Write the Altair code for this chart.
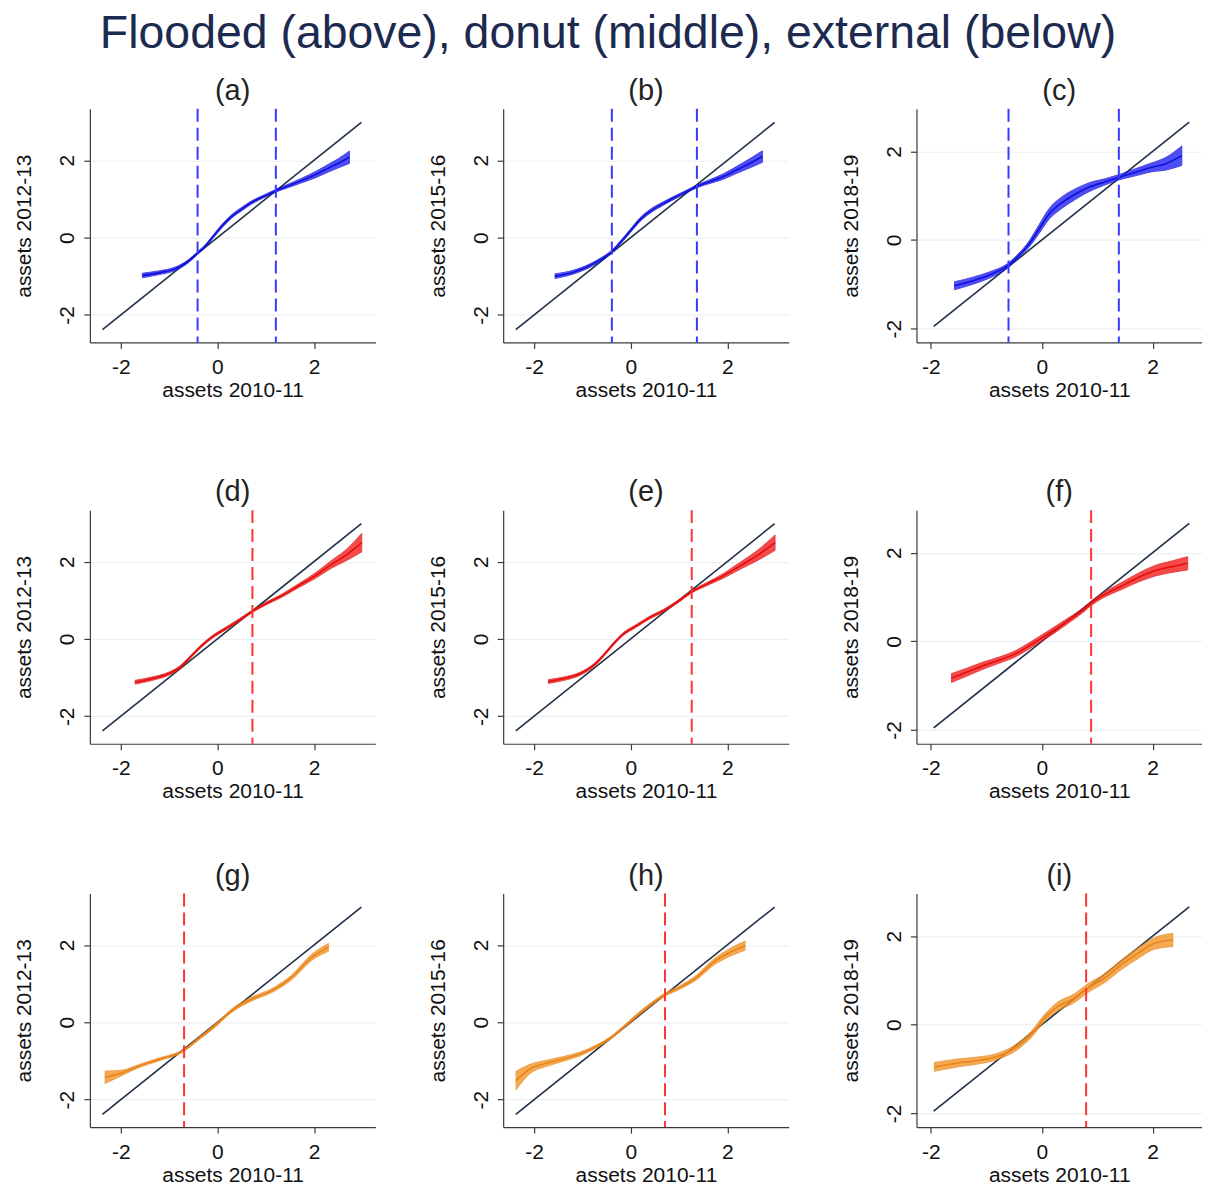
import altair as alt
import pandas as pd

TITLE = "Flooded (above), donut (middle), external (below)"
PANEL_LABELS = ["(a)", "(b)", "(c)", "(d)", "(e)", "(f)", "(g)", "(h)", "(i)"]
Y_TITLES = ["assets 2012-13", "assets 2015-16", "assets 2018-19"]
X_TITLE = "assets 2010-11"
TICKS = [-2, 0, 2]

# ---- panel (a) flooded, 2012-13
a_x = [-1.553, -1.222, -0.876, -0.600, -0.407, -0.255, -0.083, 0.090, 0.297, 0.504, 0.711, 0.987, 1.208, 1.470, 1.746, 2.022, 2.298, 2.505, 2.733]
a_y = [-0.979, -0.911, -0.808, -0.610, -0.395, -0.223, 0.034, 0.292, 0.550, 0.739, 0.911, 1.082, 1.211, 1.340, 1.478, 1.624, 1.796, 1.924, 2.079]
a_hw = [0.06, 0.05, 0.045, 0.04, 0.035, 0.035, 0.04, 0.045, 0.045, 0.045, 0.04, 0.035, 0.035, 0.045, 0.06, 0.08, 0.10, 0.12, 0.16]
a_cut = [-0.41, 1.21]

# ---- panel (b) flooded, 2015-16
b_x = [-1.567, -1.187, -0.842, -0.600, -0.407, -0.221, -0.014, 0.193, 0.400, 0.677, 0.952, 1.159, 1.366, 1.642, 1.919, 2.195, 2.470, 2.727]
b_y = [-0.996, -0.893, -0.722, -0.550, -0.378, -0.137, 0.164, 0.466, 0.680, 0.884, 1.064, 1.193, 1.322, 1.451, 1.580, 1.753, 1.924, 2.096]
b_hw = [0.06, 0.05, 0.045, 0.04, 0.035, 0.04, 0.045, 0.05, 0.05, 0.045, 0.04, 0.035, 0.035, 0.05, 0.07, 0.09, 0.12, 0.15]
b_cut = [-0.39, 1.37]

# ---- panel (c) flooded, 2018-19
c_x = [-1.575, -1.244, -0.945, -0.616, -0.407, -0.228, -0.048, 0.131, 0.371, 0.610, 0.849, 1.149, 1.388, 1.688, 1.988, 2.226, 2.526]
c_y = [-1.032, -0.919, -0.790, -0.580, -0.339, -0.090, 0.248, 0.587, 0.851, 1.038, 1.189, 1.316, 1.415, 1.528, 1.641, 1.716, 1.903]
c_hw = [0.09, 0.08, 0.07, 0.05, 0.05, 0.07, 0.10, 0.12, 0.13, 0.12, 0.10, 0.07, 0.06, 0.08, 0.10, 0.14, 0.22]
c_cut = [-0.60, 1.39]

# ---- panel (d) donut, 2012-13
d_x = [-1.704, -1.359, -1.014, -0.772, -0.565, -0.325, -0.118, 0.159, 0.435, 0.710, 0.987, 1.331, 1.677, 2.022, 2.367, 2.643, 2.988]
d_y = [-1.118, -1.031, -0.902, -0.730, -0.474, -0.173, 0.041, 0.258, 0.472, 0.704, 0.902, 1.116, 1.374, 1.632, 1.933, 2.147, 2.490]
d_hw = [0.05, 0.045, 0.04, 0.04, 0.035, 0.035, 0.035, 0.035, 0.035, 0.03, 0.035, 0.04, 0.05, 0.07, 0.10, 0.14, 0.24]
d_cut = [0.725]

# ---- panel (e) donut, 2015-16
e_x = [-1.704, -1.394, -1.049, -0.773, -0.566, -0.358, -0.151, 0.124, 0.400, 0.677, 0.952, 1.263, 1.573, 1.919, 2.263, 2.609, 2.988]
e_y = [-1.101, -1.031, -0.902, -0.688, -0.430, -0.129, 0.129, 0.343, 0.557, 0.729, 0.944, 1.219, 1.418, 1.632, 1.890, 2.147, 2.490]
e_hw = [0.05, 0.045, 0.04, 0.04, 0.035, 0.035, 0.035, 0.035, 0.035, 0.035, 0.035, 0.03, 0.04, 0.06, 0.09, 0.13, 0.20]
e_cut = [1.263]

# ---- panel (f) donut, 2018-19
f_x = [-1.628, -1.359, -1.059, -0.761, -0.461, -0.223, 0.018, 0.257, 0.496, 0.736, 0.916, 1.154, 1.454, 1.752, 2.052, 2.352, 2.632]
f_y = [-0.827, -0.699, -0.548, -0.420, -0.271, -0.097, 0.090, 0.280, 0.483, 0.693, 0.881, 1.070, 1.257, 1.445, 1.596, 1.686, 1.761]
f_hw = [0.10, 0.09, 0.08, 0.07, 0.07, 0.07, 0.07, 0.07, 0.06, 0.05, 0.05, 0.06, 0.08, 0.10, 0.12, 0.13, 0.15]
f_cut = [0.89]

# ---- panel (g) external, 2012-13
g_x = [-2.325, -1.981, -1.636, -1.222, -0.704, -0.393, -0.048, 0.296, 0.710, 1.124, 1.538, 1.952, 2.298]
g_y = [-1.421, -1.309, -1.137, -0.965, -0.732, -0.430, -0.086, 0.302, 0.603, 0.819, 1.163, 1.680, 1.938]
g_hw = [0.16, 0.07, 0.04, 0.035, 0.03, 0.035, 0.04, 0.045, 0.05, 0.05, 0.06, 0.08, 0.10]
g_cut = [-0.69]

# ---- panel (h) external, 2015-16
h_x = [-2.374, -2.084, -1.739, -1.394, -1.049, -0.704, -0.428, -0.151, 0.124, 0.400, 0.710, 1.021, 1.366, 1.711, 2.056, 2.367]
h_y = [-1.508, -1.206, -1.059, -0.947, -0.818, -0.620, -0.413, -0.129, 0.172, 0.448, 0.715, 0.904, 1.163, 1.550, 1.809, 1.981]
h_hw = [0.24, 0.12, 0.08, 0.06, 0.05, 0.04, 0.035, 0.035, 0.04, 0.04, 0.04, 0.045, 0.06, 0.08, 0.10, 0.12]
h_cut = [0.71]

# ---- panel (i) external, 2018-19
i_x = [-1.937, -1.516, -1.155, -0.794, -0.433, -0.193, 0.049, 0.289, 0.590, 0.830, 1.132, 1.431, 1.733, 2.034, 2.365]
i_y = [-0.952, -0.862, -0.809, -0.712, -0.487, -0.225, 0.150, 0.412, 0.599, 0.824, 1.048, 1.348, 1.610, 1.835, 1.910]
i_hw = [0.10, 0.09, 0.08, 0.07, 0.07, 0.07, 0.08, 0.10, 0.10, 0.10, 0.10, 0.11, 0.12, 0.13, 0.15]
i_cut = [0.80]

# axis ranges and 45-degree line extent per column
X_DOM_12 = [-2.64, 3.27]
Y_DOM_12 = [-2.71, 3.33]
X_DOM_3 = [-2.26, 2.89]
Y_DOM_3 = [-2.31, 2.96]
DIAG_12 = [-2.38, 2.98]
DIAG_3 = [-1.95, 2.66]

BLUE = "#2323f5"
BLUE_CUT = "#3a3aff"
RED = "#f41e1e"
RED_CUT = "#ff3434"
ORANGE = "#f39428"
DIAG_COLOR = "#1f3047"

W, H = 286, 234
FONT = "Liberation Sans"


def panel(label, xs, ys, hw, cuts, diag, xdom, ydom, ytitle, band_color, line_color, cut_color):
    df = pd.DataFrame({
        "x": xs,
        "y": ys,
        "lo": [y - h for y, h in zip(ys, hw)],
        "hi": [y + h for y, h in zip(ys, hw)],
    })
    ddf = pd.DataFrame({"x": diag, "y": diag})
    cdf = pd.DataFrame({"c": cuts})
    xsc = alt.Scale(domain=xdom, nice=False, zero=False)
    ysc = alt.Scale(domain=ydom, nice=False, zero=False)
    xax = alt.Axis(values=TICKS, title=X_TITLE, grid=False, labelExpr="'' + datum.value")
    yax = alt.Axis(values=TICKS, title=ytitle, grid=True, labelExpr="'' + datum.value")

    diag_l = alt.Chart(ddf).mark_line(color=DIAG_COLOR, strokeWidth=1.6).encode(
        x=alt.X("x:Q", scale=xsc, axis=xax),
        y=alt.Y("y:Q", scale=ysc, axis=yax),
    )
    band = alt.Chart(df).mark_area(
        color=band_color, opacity=0.8, interpolate="monotone",
        stroke=line_color, strokeWidth=1, strokeOpacity=0.9,
    ).encode(
        x=alt.X("x:Q", scale=xsc, axis=xax),
        y=alt.Y("lo:Q", scale=ysc, axis=yax),
        y2="hi:Q",
    )
    mid = alt.Chart(df).mark_line(color=line_color, strokeWidth=1.6, interpolate="monotone").encode(
        x=alt.X("x:Q", scale=xsc, axis=xax),
        y=alt.Y("y:Q", scale=ysc, axis=yax),
    )
    cut = alt.Chart(cdf).mark_rule(color=cut_color, strokeWidth=2, strokeDash=[13, 6]).encode(
        x=alt.X("c:Q", scale=xsc, axis=xax),
    )
    return alt.layer(diag_l, band, mid, cut).properties(
        width=W, height=H,
        title=alt.TitleParams(label, fontSize=29, font=FONT, color="#222222",
                              fontWeight="normal", anchor="middle", offset=2),
    )


rows_data = [
    [(a_x, a_y, a_hw, a_cut), (b_x, b_y, b_hw, b_cut), (c_x, c_y, c_hw, c_cut)],
    [(d_x, d_y, d_hw, d_cut), (e_x, e_y, e_hw, e_cut), (f_x, f_y, f_hw, f_cut)],
    [(g_x, g_y, g_hw, g_cut), (h_x, h_y, h_hw, h_cut), (i_x, i_y, i_hw, i_cut)],
]
row_style = [
    (BLUE, "#1010d8", BLUE_CUT),
    (RED, "#e01010", RED_CUT),
    (ORANGE, "#e8841a", RED_CUT),
]

rows = []
k = 0
for r, rdata in enumerate(rows_data):
    panels = []
    for c, (xs, ys, hw, cuts) in enumerate(rdata):
        if c < 2:
            xdom, ydom, diag = X_DOM_12, Y_DOM_12, DIAG_12
        else:
            xdom, ydom, diag = X_DOM_3, Y_DOM_3, DIAG_3
        bc, lc, cc = row_style[r]
        panels.append(panel(PANEL_LABELS[k], xs, ys, hw, cuts, diag, xdom, ydom,
                            Y_TITLES[c], bc, lc, cc))
        k += 1
    rows.append(alt.hconcat(*panels, spacing=52))

top2 = alt.vconcat(rows[0], rows[1], spacing=78)
chart = alt.vconcat(top2, rows[2], spacing=60).properties(
    title=alt.TitleParams(TITLE, fontSize=46.5, font=FONT, color="#1d2a50",
                          fontWeight="normal", anchor="middle", offset=19),
    padding={"left": 6, "top": 2, "right": 0, "bottom": 0},
).configure_view(stroke=None).configure_axis(
    domainColor="#3a3a3a", tickColor="#3a3a3a", domainWidth=1.2, tickWidth=1.2,
    labelColor="#111111", titleColor="#111111",
    labelFont=FONT, titleFont=FONT, labelFontSize=21, titleFontSize=21,
    titleFontWeight="normal", tickSize=6, gridColor="#edf0f3", gridWidth=1.2,
).configure_axisX(
    labelPadding=8, titlePadding=2,
).configure_axisY(
    labelAngle=270, labelAlign="center", labelBaseline="alphabetic",
    labelPadding=10, titlePadding=22,
)

chart.save("out.html", embed_options={"renderer": "svg", "actions": False})
